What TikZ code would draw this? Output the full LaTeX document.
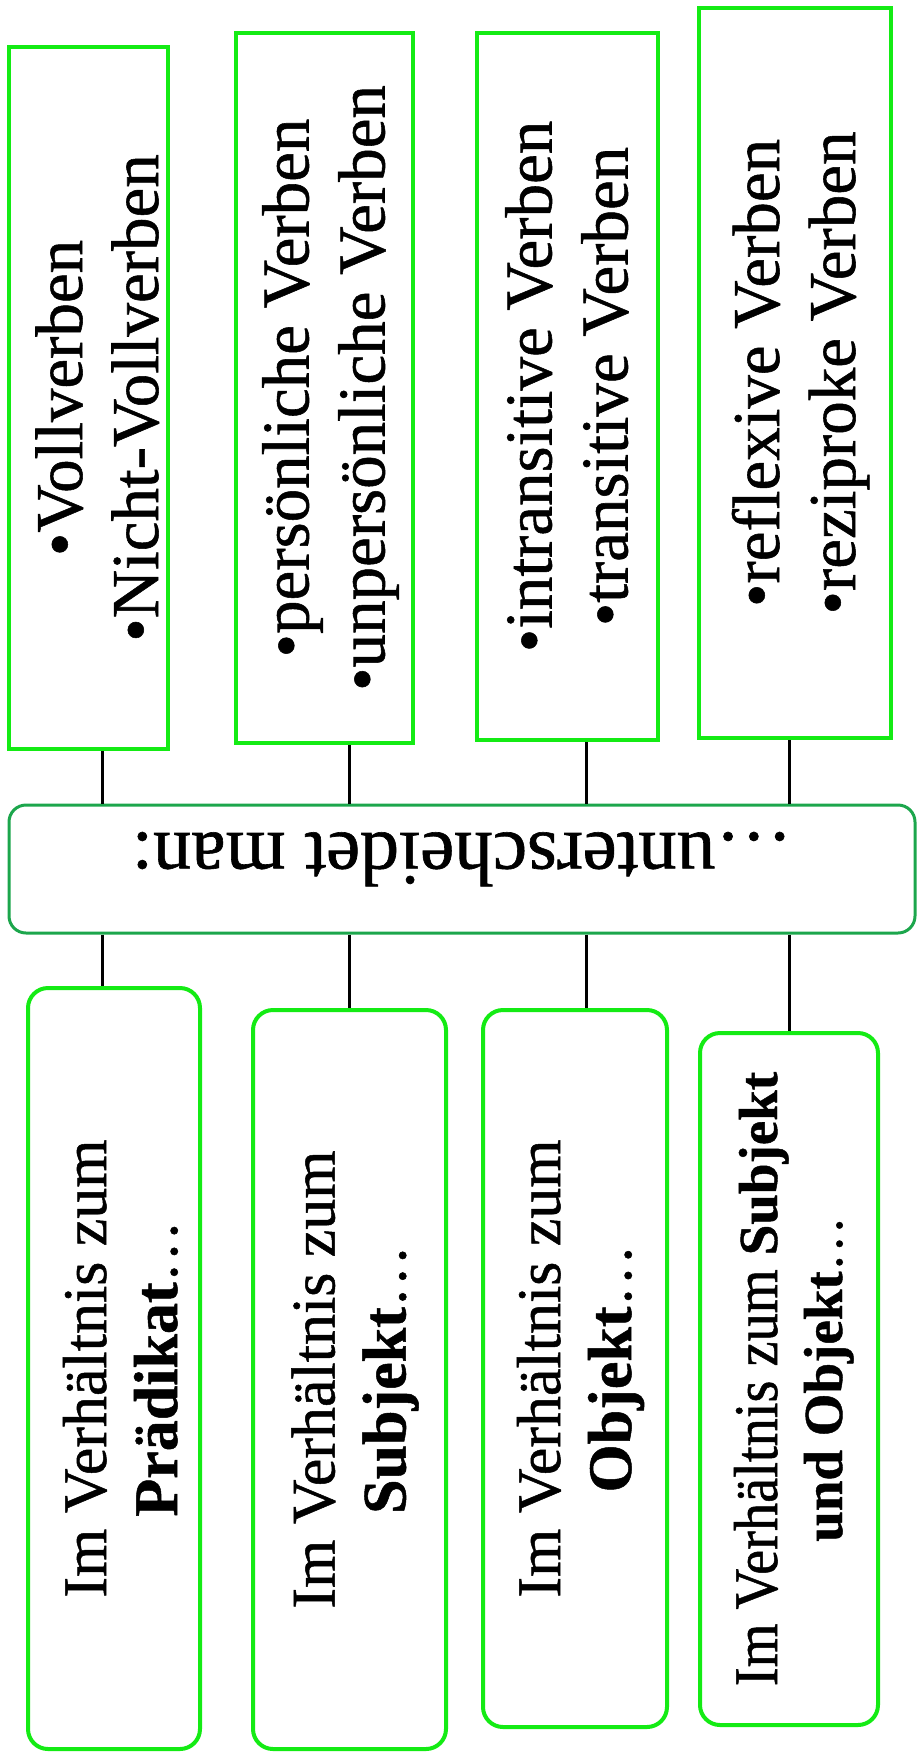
\documentclass[tikz,border=0pt]{standalone}
\usepackage{fontspec}
\setmainfont{Liberation Serif}[FakeBold=0.8]
\newfontfamily\schmal{Liberation Serif}[FakeStretch=0.91,FakeBold=0.8]
\usepackage{xcolor}
\usepackage{tikz}

% 两行文字,第一行为基线
\newcommand{\zweizeilen}[2]{\begin{tabular}[t]{@{}c@{}}#1\\#2\end{tabular}}

\begin{document}
\begin{tikzpicture}[x=1pt,y=-1pt]
    \definecolor{mygreen}{RGB}{20,235,20}
    \definecolor{mygreend}{RGB}{28,166,76}

    \useasboundingbox (0,0) rectangle (916,1761);  % 图的大小

    \tikzstyle{verben}=[rectangle,draw=mygreen,line width=4pt,fill=white,rotate=90,inner sep=0pt,
        font=\fontsize{67pt}{76pt}\selectfont,text height=44pt,text depth=76pt]  % 上面的方框
    \tikzstyle{zum}=[rectangle,rounded corners=20pt,draw=mygreen,line width=4pt,fill=white,rotate=90,inner sep=0pt,
        font=\fontsize{62pt}{71pt}\selectfont,text height=41pt,text depth=71pt]  % 下面的圆角框
    \tikzstyle{mitte}=[rectangle,rounded corners=17pt,draw=mygreend,line width=3pt,fill=white,rotate=180,inner sep=0pt,
        font=\fontsize{77pt}{88pt}\selectfont,text height=72pt,text depth=0pt]  % 中间的框,倒着写
    \tikzstyle{link}=[draw=black,line width=3pt]  % 连接线

    % 定义note
    \node[verben,minimum width=702pt,minimum height=159pt,text depth=57pt](v1) at (88.5,398){\zweizeilen{•Vollverben}{•Nicht-Vollverben}};
    \node[verben,minimum width=710pt,minimum height=177pt](v2) at (324.5,388){\zweizeilen{•persönliche Verben}{•unpersönliche Verben}};
    \node[verben,minimum width=707pt,minimum height=181pt](v3) at (567.5,386.5){\zweizeilen{•intransitive Verben}{•transitive Verben}};
    \node[verben,minimum width=730pt,minimum height=192pt](v4) at (795,373){\zweizeilen{•reflexive Verben}{•reziproke Verben}};
    \node[mitte,minimum width=906pt,minimum height=128pt](man) at (462,869){…unterscheidet man:};
    \node[zum,minimum width=761pt,minimum height=172pt,text depth=57pt](zum1) at (114,1368.5){\zweizeilen{Im Verhältnis zum}{\textbf{Prädikat}…}};
    \node[zum,minimum width=739pt,minimum height=193pt](zum2) at (349.5,1379.5){\zweizeilen{Im Verhältnis zum}{\textbf{Subjekt}…}};
    \node[zum,minimum width=717pt,minimum height=184pt](zum3) at (575,1368.5){\zweizeilen{Im Verhältnis zum}{\textbf{Objekt}…}};
    \node[zum,minimum width=692pt,minimum height=178pt,font=\fontsize{62pt}{65pt}\selectfont,text depth=65pt](zum4) at (789,1379)
        {\zweizeilen{{\schmal Im Verhältnis zum }{\fontsize{55pt}{65pt}\selectfont\textbf{Subjekt}}}{\fontsize{55pt}{65pt}\selectfont\textbf{und Objekt}…}};

    % 连接线的位置
    \coordinate (k1) at (102,0);
    \coordinate (k2) at (349,0);
    \coordinate (k3) at (586,0);
    \coordinate (k4) at (789,0);

    % 开始画线
    \draw[link](k1 |- v1.west)--(k1 |- man.south);
    \draw[link](k2 |- v2.west)--(k2 |- man.south);
    \draw[link](k3 |- v3.west)--(k3 |- man.south);
    \draw[link](k4 |- v4.west)--(k4 |- man.south);
    \draw[link](k1 |- man.north)--(k1 |- zum1.east);
    \draw[link](k2 |- man.north)--(k2 |- zum2.east);
    \draw[link](k3 |- man.north)--(k3 |- zum3.east);
    \draw[link](k4 |- man.north)--(k4 |- zum4.east);
\end{tikzpicture}
\end{document}
